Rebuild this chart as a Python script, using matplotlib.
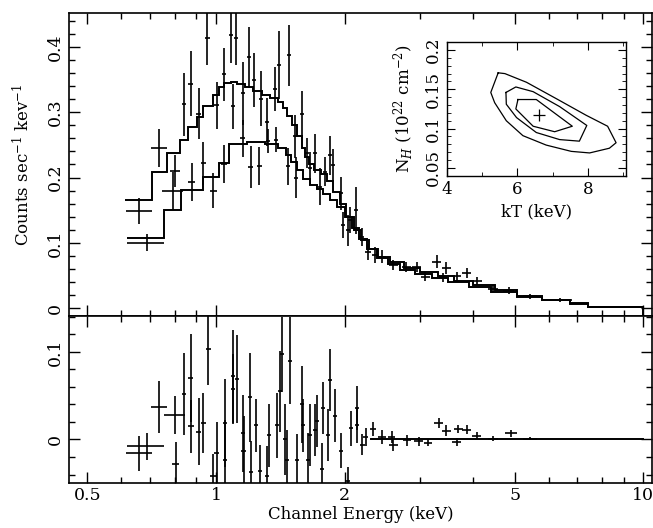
import numpy as np
import matplotlib
matplotlib.use("Agg")
import matplotlib.pyplot as plt
from matplotlib.ticker import FixedLocator, MultipleLocator, NullFormatter, FixedFormatter

plt.rcParams['font.family'] = ['DejaVu Serif']
plt.rcParams['mathtext.fontset'] = 'dejavuserif'
plt.rcParams['font.size'] = 12

# ---------------- data: model histograms (top panel) ----------------
modA_edges = [0.612, 0.707, 0.766, 0.824, 0.861, 0.901, 0.934, 0.982, 1.018, 1.046, 1.083,
              1.12, 1.17, 1.22, 1.28, 1.34, 1.40, 1.438, 1.464, 1.504, 1.545, 1.588, 1.616,
              1.654, 1.697, 1.76, 1.82, 1.88, 1.95, 2.02, 2.10, 2.18, 2.28, 2.40, 2.55, 2.75,
              3.0, 3.3, 3.6, 4.0, 4.5, 5.06, 5.79, 6.74, 7.44, 10.0]
modA_vals = [0.166, 0.209, 0.238, 0.258, 0.278, 0.292, 0.309, 0.326, 0.338, 0.345, 0.347,
             0.344, 0.338, 0.332, 0.327, 0.322, 0.316, 0.306, 0.295, 0.280, 0.263, 0.245,
             0.232, 0.220, 0.212, 0.205, 0.195, 0.178, 0.160, 0.140, 0.120, 0.105, 0.090,
             0.079, 0.070, 0.062, 0.056, 0.049, 0.042, 0.035, 0.028, 0.018, 0.013, 0.008,
             0.002]
modB_edges = [0.618, 0.755, 0.830, 0.934, 1.018, 1.075, 1.18, 1.30, 1.40, 1.46, 1.50, 1.55,
              1.60, 1.66, 1.72, 1.78, 1.85, 1.92, 2.00, 2.08, 2.16, 2.26, 2.38, 2.52, 2.70,
              2.92, 3.2, 3.5, 3.9, 4.4, 5.06, 5.79, 6.74, 7.44, 10.0]
modB_vals = [0.108, 0.151, 0.181, 0.201, 0.222, 0.252, 0.254, 0.252, 0.245, 0.235, 0.224,
             0.211, 0.198, 0.188, 0.183, 0.175, 0.165, 0.155, 0.140, 0.122, 0.106, 0.090,
             0.077, 0.067, 0.059, 0.052, 0.046, 0.040, 0.033, 0.025, 0.017, 0.012, 0.006,
             0.002]

# ---------------- data: spectrum points, dataset A ----------------
a_e  = [0.661, 0.736, 0.802, 0.841, 0.872, 0.912, 0.954, 1.004, 1.044, 1.084, 1.098, 1.114,
        1.155, 1.196, 1.229, 1.273, 1.315, 1.374, 1.406, 1.483, 1.531, 1.588, 1.636, 1.706,
        1.800, 1.849, 1.960, 2.06, 2.13, 2.27, 2.445, 2.79, 3.29, 3.46, 3.86, 4.46, 5.43]
a_de = [0.046, 0.030, 0.022, 0.010, 0.010, 0.012, 0.012, 0.012, 0.012, 0.012, 0.012, 0.012,
        0.013, 0.013, 0.014, 0.014, 0.015, 0.015, 0.015, 0.016, 0.016, 0.017, 0.017, 0.018,
        0.019, 0.019, 0.020, 0.022, 0.022, 0.040, 0.050, 0.070, 0.080, 0.080, 0.090, 0.120,
        0.200]
a_y  = [0.149, 0.245, 0.210, 0.312, 0.344, 0.298, 0.413, 0.311, 0.358, 0.418, 0.309, 0.413,
        0.329, 0.384, 0.349, 0.321, 0.285, 0.336, 0.372, 0.387, 0.263, 0.297, 0.237, 0.237,
        0.209, 0.234, 0.176, 0.135, 0.150, 0.086, 0.079, 0.063, 0.071, 0.061, 0.054, 0.030,
        0.018]
a_dy = [0.020, 0.029, 0.025, 0.048, 0.050, 0.039, 0.041, 0.036, 0.041, 0.043, 0.034, 0.041,
        0.048, 0.047, 0.041, 0.042, 0.037, 0.034, 0.052, 0.047, 0.033, 0.036, 0.023, 0.030,
        0.022, 0.030, 0.025, 0.020, 0.036, 0.012, 0.010, 0.008, 0.010, 0.009, 0.008, 0.006,
        0.004]

# ---------------- data: spectrum points, dataset B ----------------
b_e  = [0.688, 0.794, 0.877, 0.934, 0.986, 1.044, 1.155, 1.206, 1.263, 1.321, 1.382, 1.477,
        1.539, 1.661, 1.752, 1.883, 1.986, 2.04, 2.195, 2.36, 2.60, 2.95, 3.09, 3.40, 3.66,
        4.09, 4.84, 6.4]
b_de = [0.068, 0.045, 0.016, 0.014, 0.018, 0.018, 0.015, 0.015, 0.015, 0.015, 0.015, 0.016,
        0.016, 0.018, 0.018, 0.020, 0.020, 0.022, 0.030, 0.040, 0.060, 0.070, 0.070, 0.080,
        0.090, 0.100, 0.150, 0.400]
b_y  = [0.100, 0.179, 0.193, 0.222, 0.180, 0.221, 0.260, 0.216, 0.218, 0.256, 0.258, 0.217,
        0.200, 0.214, 0.186, 0.219, 0.127, 0.119, 0.109, 0.081, 0.066, 0.063, 0.048, 0.047,
        0.049, 0.042, 0.027, 0.012]
b_dy = [0.013, 0.029, 0.029, 0.033, 0.027, 0.029, 0.028, 0.032, 0.029, 0.018, 0.019, 0.029,
        0.031, 0.025, 0.028, 0.025, 0.020, 0.024, 0.014, 0.012, 0.008, 0.008, 0.007, 0.007,
        0.007, 0.006, 0.005, 0.003]

# ---------------- data: residuals (bottom panel) ----------------
res_e  = [0.661, 0.688, 0.736, 0.802, 0.806, 0.843, 0.872, 0.876, 0.912, 0.934, 0.959, 0.986,
          1.004, 1.050, 1.050, 1.094, 1.098, 1.118, 1.155, 1.160, 1.201, 1.210, 1.241, 1.268,
          1.315, 1.333, 1.388, 1.412, 1.426, 1.451, 1.464, 1.490, 1.545, 1.588, 1.596, 1.645,
          1.661, 1.706, 1.722, 1.769, 1.784, 1.832, 1.849, 1.899, 1.963, 2.04, 2.07, 2.14,
          2.14, 2.20, 2.24, 2.33, 2.45, 2.58, 2.60, 2.80, 2.98, 3.14, 3.32, 3.46, 3.66, 3.69,
          3.86, 4.08, 4.46, 4.90, 5.43]
res_de = [0.046, 0.068, 0.030, 0.045, 0.015, 0.010, 0.010, 0.014, 0.012, 0.012, 0.012, 0.018,
          0.012, 0.012, 0.012, 0.012, 0.012, 0.012, 0.013, 0.013, 0.013, 0.013, 0.014, 0.014,
          0.015, 0.015, 0.015, 0.015, 0.015, 0.016, 0.016, 0.016, 0.016, 0.017, 0.017, 0.018,
          0.018, 0.018, 0.018, 0.019, 0.019, 0.019, 0.019, 0.020, 0.020, 0.020, 0.020, 0.020,
          0.020, 0.030, 0.030, 0.040, 0.050, 0.050, 0.060, 0.060, 0.070, 0.070, 0.080, 0.080,
          0.090, 0.090, 0.100, 0.100, 0.120, 0.150, 0.200]
res_r  = [-0.016, -0.008, 0.037, 0.028, -0.028, 0.052, 0.070, 0.015, 0.009, 0.019, 0.103,
          -0.042, -0.016, 0.019, -0.023, 0.072, 0.058, 0.069, 0.007, -0.013, 0.048, -0.037,
          0.016, -0.036, -0.042, 0.005, 0.016, 0.055, 0.097, 0.000, -0.024, 0.090, -0.024,
          0.040, 0.016, -0.023, 0.005, 0.011, 0.021, -0.034, 0.036, 0.005, 0.068, 0.027,
          -0.013, -0.047, 0.013, 0.016, 0.036, -0.006, 0.003, 0.012, 0.003, 0.003, -0.006,
          -0.001, -0.002, -0.004, 0.019, 0.010, -0.003, 0.012, 0.011, 0.004, 0.001, 0.007,
          0.001]
res_dr = [0.020, 0.015, 0.030, 0.022, 0.025, 0.047, 0.050, 0.030, 0.038, 0.034, 0.041, 0.025,
          0.036, 0.050, 0.045, 0.053, 0.040, 0.050, 0.044, 0.040, 0.051, 0.035, 0.030, 0.030,
          0.035, 0.036, 0.037, 0.046, 0.043, 0.040, 0.035, 0.050, 0.030, 0.044, 0.030, 0.030,
          0.035, 0.030, 0.030, 0.030, 0.030, 0.030, 0.035, 0.030, 0.020, 0.015, 0.020, 0.020,
          0.025, 0.012, 0.010, 0.008, 0.008, 0.007, 0.007, 0.006, 0.005, 0.004, 0.006, 0.006,
          0.005, 0.005, 0.005, 0.004, 0.003, 0.004, 0.002]
res_zero_range = [2.3, 10.0]

# ---------------- data: inset confidence contours ----------------
c1_kt = [6.02, 6.54, 7.56, 7.06, 6.45, 5.96]
c1_nh = [0.137, 0.137, 0.103, 0.096, 0.103, 0.125]
c2_kt = [5.68, 5.96, 6.45, 7.20, 7.97, 7.76, 7.20, 6.54, 5.98, 5.69]
c2_nh = [0.146, 0.153, 0.147, 0.128, 0.104, 0.084, 0.086, 0.095, 0.114, 0.131]
c3_kt = [5.46, 5.65, 6.26, 7.11, 7.95, 8.56, 8.80, 8.61, 8.05, 7.53, 6.82, 6.16, 5.69, 5.36, 5.25]
c3_nh = [0.171, 0.170, 0.159, 0.138, 0.117, 0.103, 0.082, 0.075, 0.069, 0.071, 0.079, 0.091,
         0.110, 0.133, 0.146]
best_kt = [6.62]
best_nh = [0.117]

xmajor = [0.5, 1, 2, 5, 10]
xmajor_labels = ['0.5', '1', '2', '5', '10']
xminor = [0.6, 0.7, 0.8, 0.9, 3, 4, 6, 7, 8, 9]

# ---------------- figure ----------------
fig = plt.figure(figsize=(6.53, 5.28), dpi=100)
ax1 = fig.add_axes([0.1057, 0.4015, 0.8928, 0.5739])
ax2 = fig.add_axes([0.1057, 0.0847, 0.8928, 0.3168])
axin = fig.add_axes([0.684, 0.6672, 0.2746, 0.2538])

lw_line = 1.4
lw_err = 1.2

for ax in (ax1, ax2):
    ax.set_xscale('log')
    ax.set_xlim(0.453, 10.48)
    ax.xaxis.set_major_locator(FixedLocator(xmajor))
    ax.xaxis.set_minor_locator(FixedLocator(xminor))
    ax.xaxis.set_minor_formatter(NullFormatter())
    ax.tick_params(which='both', direction='in', top=True, right=True, width=1.0)
    ax.tick_params(which='major', length=8)
    ax.tick_params(which='minor', length=4)
    for s in ax.spines.values():
        s.set_linewidth(1.2)
    ax.tick_params(axis='y', labelrotation=90)

# top panel
ax1.stairs(modA_vals, modA_edges, color='k', lw=lw_line, baseline=None)
ax1.stairs(modB_vals, modB_edges, color='k', lw=lw_line, baseline=None)
ax1.plot([modA_edges[-1], modA_edges[-1]], [modA_vals[-1], -0.05], color='k', lw=lw_line)
ax1.errorbar(a_e, a_y, xerr=a_de, yerr=a_dy, fmt='none', ecolor='k', elinewidth=lw_err, capsize=0)
ax1.errorbar(b_e, b_y, xerr=b_de, yerr=b_dy, fmt='none', ecolor='k', elinewidth=lw_err, capsize=0)
ax1.set_ylim(-0.012, 0.452)
ax1.yaxis.set_major_locator(MultipleLocator(0.1))
ax1.yaxis.set_minor_locator(MultipleLocator(0.02))
ax1.yaxis.set_major_formatter(plt.FuncFormatter(lambda v, p: '0' if abs(v) < 1e-9 else f'{v:.1f}'))
ax1.tick_params(axis='x', labelbottom=False)
ax1.tick_params(axis='y', labelsize=12.5)
ax1.set_ylabel('Counts sec$^{-1}$ kev$^{-1}$', fontsize=12)
ax1.yaxis.set_label_coords(-0.062, 0.5)
for lab in ax1.get_yticklabels():
    lab.set_va('center')

# bottom panel
ax2.errorbar(res_e, res_r, xerr=res_de, yerr=res_dr, fmt='none', ecolor='k', elinewidth=lw_err, capsize=0)
ax2.plot(res_zero_range, [0, 0], color='k', lw=lw_line)
ax2.set_ylim(-0.05, 0.1408)
ax2.yaxis.set_major_locator(MultipleLocator(0.1))
ax2.yaxis.set_minor_locator(MultipleLocator(0.02))
ax2.yaxis.set_major_formatter(plt.FuncFormatter(lambda v, p: '0' if abs(v) < 1e-9 else f'{v:.1f}'))
ax2.xaxis.set_major_formatter(FixedFormatter(xmajor_labels))
ax2.tick_params(axis='both', labelsize=12.5)
ax2.tick_params(axis='x', pad=3)
ax2.set_xlabel('Channel Energy (keV)', fontsize=12, labelpad=1)
for lab in ax2.get_yticklabels():
    lab.set_va('center')

# inset
for kt, nh in ((c1_kt, c1_nh), (c2_kt, c2_nh), (c3_kt, c3_nh)):
    axin.plot(kt + kt[:1], nh + nh[:1], color='k', lw=0.9)
axin.plot(best_kt, best_nh, marker='+', color='k', ms=9, mew=0.9, ls='none')
axin.set_xlim(4, 9.08)
axin.set_ylim(0.04, 0.2106)
axin.xaxis.set_major_locator(MultipleLocator(2))
axin.xaxis.set_minor_locator(MultipleLocator(1))
axin.yaxis.set_major_locator(FixedLocator([0.05, 0.1, 0.15, 0.2]))
axin.yaxis.set_major_formatter(FixedFormatter(['0.05', '0.1', '0.15', '0.2']))
axin.yaxis.set_minor_locator(MultipleLocator(0.01))
axin.tick_params(which='both', direction='in', top=True, right=True, labelsize=12)
axin.tick_params(which='major', length=6)
axin.tick_params(which='minor', length=3)
axin.tick_params(axis='y', labelrotation=90)
for lab in axin.get_yticklabels():
    lab.set_va('center')
for s in axin.spines.values():
    s.set_linewidth(1.0)
axin.set_xlabel('kT (keV)', fontsize=12, labelpad=4)
axin.set_ylabel('N$_H$ (10$^{22}$ cm$^{-2}$)', fontsize=12, labelpad=6)

fig.savefig('out.png', dpi=100)
